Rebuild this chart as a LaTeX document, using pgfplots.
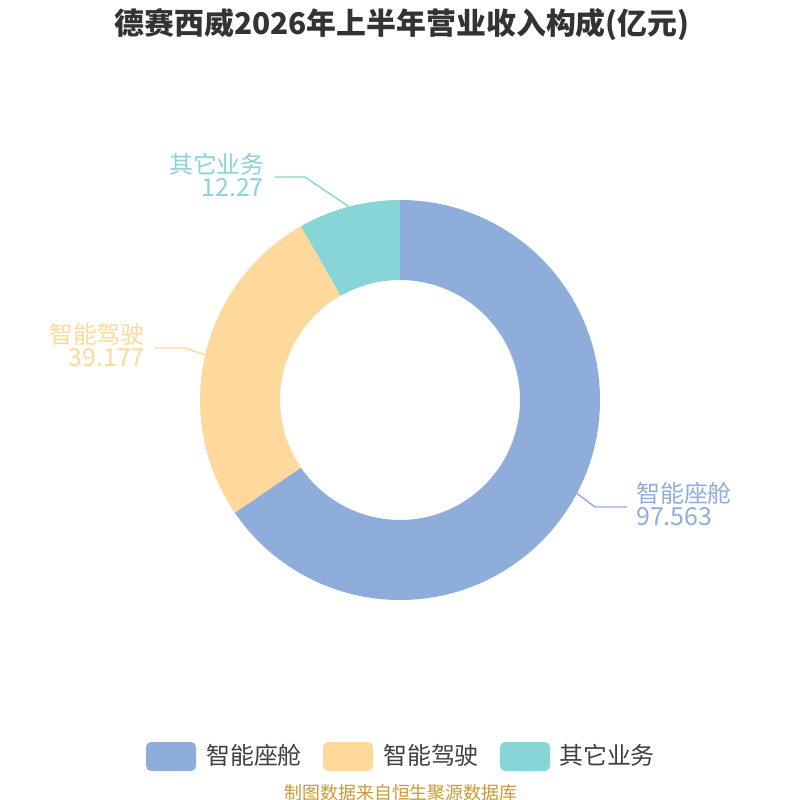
\documentclass[border=0pt]{standalone}
\usepackage{pgfplots}
\pgfplotsset{compat=1.18}
\usepackage{pgfplotstable}
\usepackage{fontspec}
\setmainfont{Noto Sans CJK SC}
\usetikzlibrary{calc}
\definecolor{cA}{RGB}{143,173,219}
\definecolor{cB}{RGB}{255,217,155}
\definecolor{cC}{RGB}{136,213,216}
\definecolor{ctitle}{RGB}{51,51,51}
\definecolor{clegend}{RGB}{64,64,64}
\definecolor{csrc}{RGB}{204,153,51}

\pgfplotstableread{
id value
0 97.563
1 39.177
2 12.27
}\piedata

\newcommand\donutslice[3]{%
  \fill[#1] ($(C)+(#2:200bp)$) arc[start angle=#2,end angle=#3,radius=200bp]
    -- ($(C)+(#3:120bp)$) arc[start angle=#3,end angle=#2,radius=120bp] -- cycle;}

\tikzset{namelab/.style={inner sep=0, text depth=0pt, font=\fontsize{24}{24}\selectfont},
         numlab/.style={inner sep=0, text height=18.5bp, font=\fontsize{25}{25}\selectfont}}

\begin{document}
\begin{tikzpicture}
\pgfplotstablegetelem{0}{value}\of\piedata \edef\vA{\pgfplotsretval}
\pgfplotstablegetelem{1}{value}\of\piedata \edef\vB{\pgfplotsretval}
\pgfplotstablegetelem{2}{value}\of\piedata \edef\vC{\pgfplotsretval}
\pgfmathsetmacro\tot{\vA+\vB+\vC}
\pgfmathsetmacro\aA{90}
\pgfmathsetmacro\aB{90-360*(\vA/\tot)}
\pgfmathsetmacro\aC{\aB-360*(\vB/\tot)}
\pgfmathsetmacro\aD{\aC-360*(\vC/\tot)}
\pgfmathsetmacro\mA{(\aA+\aB)/2}
\pgfmathsetmacro\mB{(\aB+\aC)/2}
\pgfmathsetmacro\mC{(\aC+\aD)/2}
\begin{axis}[width=800bp,height=800bp,scale only axis,hide axis,clip=false,
  xmin=0,xmax=800,ymin=0,ymax=800,y dir=reverse]
\fill[white] (axis cs:0,0) rectangle (axis cs:800,800);
\coordinate (BL) at (axis cs:0,800);
\coordinate (TR) at (axis cs:800,0);
\coordinate (C) at (axis cs:400,400);
\donutslice{cA}{\aA}{\aB}
\donutslice{cB}{\aB}{\aC}
\donutslice{cC}{\aC}{\aD}
% leader lines
\draw[cA, line width=1.4bp] ($(C)+(\mA:200bp)$) -- (axis cs:595,507) -- (axis cs:627,507);
\draw[cB, line width=1.4bp] ($(C)+(\mB:200bp)$) -- (axis cs:185,348) -- (axis cs:155,348);
\draw[cC, line width=1.4bp] ($(C)+(\mC:200bp)$) -- (axis cs:305,177) -- (axis cs:275,177);
% labels
\node[anchor=base west, namelab, text=cA] at (axis cs:636,502) {智能座舱};
\node[anchor=base west, numlab, text=cA] at (axis cs:636,525) {97.563};
\node[anchor=base east, namelab, text=cB] at (axis cs:145,343) {智能驾驶};
\node[anchor=base east, numlab, text=cB] at (axis cs:145,366) {39.177};
\node[anchor=base east, namelab, text=cC] at (axis cs:265,173) {其它业务};
\node[anchor=base east, numlab, text=cC] at (axis cs:264,196) {12.27};
% title
\node[anchor=base, inner sep=0, text=ctitle, font=\fontsize{30}{30}\selectfont\bfseries] at (axis cs:402,35) {德赛西威2026年上半年营业收入构成(亿元)};
% legend
\fill[cA, rounded corners=5bp] (axis cs:146,742) rectangle (axis cs:196,771);
\fill[cB, rounded corners=5bp] (axis cs:323,742) rectangle (axis cs:373,771);
\fill[cC, rounded corners=5bp] (axis cs:500,742) rectangle (axis cs:550,771);
\node[anchor=base west, inner sep=0, text=clegend, font=\fontsize{24}{24}\selectfont] at (axis cs:206,764) {智能座舱};
\node[anchor=base west, inner sep=0, text=clegend, font=\fontsize{24}{24}\selectfont] at (axis cs:383,764) {智能驾驶};
\node[anchor=base west, inner sep=0, text=clegend, font=\fontsize{24}{24}\selectfont] at (axis cs:559,764) {其它业务};
% source
\node[anchor=base, inner sep=0, text=csrc, font=\fontsize{18}{18}\selectfont] at (axis cs:401,799) {制图数据来自恒生聚源数据库};
\end{axis}
\pgfresetboundingbox
\useasboundingbox (BL) rectangle (TR);
\end{tikzpicture}
\end{document}
